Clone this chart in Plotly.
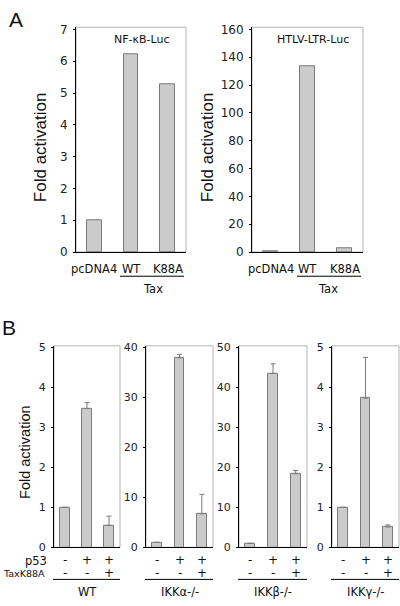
import plotly.graph_objects as go

# ---------------- data ----------------
a_categories = ["pcDNA4", "WT", "K88A"]
nfkb_values = [1.0, 6.23, 5.28]
htlv_values = [0.5, 133.4, 3.0]
a_titles = ["NF-κB-Luc", "HTLV-LTR-Luc"]
a_ticks_nfkb = [0, 1, 2, 3, 4, 5, 6, 7]
a_ticks_htlv = [0, 20, 40, 60, 80, 100, 120, 140, 160]

b_groups = ["WT", "IKKα-/-", "IKKβ-/-", "IKKγ-/-"]
wt_values = [1.0, 3.47, 0.55]
wt_errors = [0, 0.15, 0.23]
ikka_values = [1.0, 37.9, 6.7]
ikka_errors = [0, 0.7, 3.9]
ikkb_values = [1.0, 43.5, 18.4]
ikkb_errors = [0, 2.4, 0.8]
ikkg_values = [1.0, 3.73, 0.51]
ikkg_errors = [0, 1.02, 0.05]
b_ticks_wt = [0, 1, 2, 3, 4, 5]
b_ticks_ikka = [0, 10, 20, 30, 40]
b_ticks_ikkb = [0, 10, 20, 30, 40, 50]
b_ticks_ikkg = [0, 1, 2, 3, 4, 5]
p53_signs = ["-", "+", "+"]
tax_signs = ["-", "-", "+"]

# ---------------- layout helpers ----------------
W, H = 400, 606
def fx(x):
    return x / W
def fy(y):
    return 1 - y / H

BAR_FILL = "#cbcbcb"
BAR_LINE = "#7a7a7a"
FRAME = "#b4b4b4"
LABEL_FONT = "Liberation Sans, Arial, sans-serif"
SMALL_FONT = "DejaVu Sans, sans-serif"
INK = "#111111"

fig = go.Figure()
shapes = []
annotations = []
layout = {}

pos = [0, 1, 2]

def note(x, y, text, size, xref="paper", family=SMALL_FONT, xanchor="center", angle=0):
    annotations.append(dict(x=x if xref != "paper" else fx(x), xref=xref, y=fy(y), yref="paper",
                            text=text, showarrow=False, xanchor=xanchor, yanchor="middle",
                            textangle=angle, font=dict(family=family, size=size, color=INK)))

def add_panel(idx, values, errors, ticks, ymax, x0, x1, ytop, ybot, barw, tickfont):
    xa = "x" if idx == 1 else f"x{idx}"
    ya = "y" if idx == 1 else f"y{idx}"
    trace = dict(
        x=pos, y=values, xaxis=xa, yaxis=ya, width=barw,
        marker=dict(color=BAR_FILL, line=dict(color=BAR_LINE, width=1)),
        showlegend=False, hoverinfo="y",
    )
    if errors is not None:
        trace["error_y"] = dict(type="data", array=errors, arrayminus=[0] * len(errors),
                                symmetric=False, color="#7a7a7a", thickness=1, width=2.5)
    fig.add_trace(go.Bar(**trace))
    xk = "xaxis" if idx == 1 else f"xaxis{idx}"
    yk = "yaxis" if idx == 1 else f"yaxis{idx}"
    layout[xk] = dict(domain=[fx(x0), fx(x1)], range=[-0.5, 2.5], anchor=ya,
                      showline=True, linecolor="black", linewidth=1,
                      showgrid=False, zeroline=False, ticks="",
                      showticklabels=False, fixedrange=True)
    layout[yk] = dict(domain=[fy(ybot), fy(ytop)], range=[0, ymax], anchor=xa,
                      showline=True, linecolor="black", linewidth=1,
                      showgrid=False, zeroline=False, ticks="outside", ticklen=2,
                      tickcolor="black", tickvals=ticks,
                      tickfont=dict(family=SMALL_FONT, size=tickfont, color="#222222"),
                      ticklabelstandoff=3, fixedrange=True)
    shapes.append(dict(type="rect", xref="paper", yref="paper",
                       x0=fx(x0), x1=fx(x1), y0=fy(ybot), y1=fy(ytop),
                       line=dict(color=FRAME, width=1), layer="below"))
    return xa

# ---------------- panel A ----------------
A_TOP, A_BOT = 22.7, 252
xa1 = add_panel(1, nfkb_values, None, a_ticks_nfkb, 7.07, 76, 186, A_TOP, A_BOT, 0.4, 12)
xa2 = add_panel(2, htlv_values, None, a_ticks_htlv, 161.6, 252, 363, A_TOP, A_BOT, 0.4, 12)

for xa, (tx, tcx), (ux0, ux1), taxc, ylab_x in [
    (xa1, (a_titles[0], 141), (120, 184), 153, 40),
    (xa2, (a_titles[1], 313), (297, 361), 328, 207),
]:
    for i, c in enumerate(a_categories):
        note(pos[i], 269, c, 11.5, xref=xa)
    note(tcx, 35, tx, 11)
    shapes.append(dict(type="line", xref="paper", yref="paper", x0=fx(ux0), x1=fx(ux1),
                       y0=fy(276.7), y1=fy(276.7), line=dict(color="black", width=1)))
    note(taxc, 290, "Tax", 11.5)
    note(ylab_x, 145, "Fold activation", 17, family=LABEL_FONT, angle=-90)

# ---------------- panel B ----------------
B_TOP, B_BOT = 347.7, 553.3
b_specs = [
    (wt_values, wt_errors, b_ticks_wt, 5.04, 54, 120),
    (ikka_values, ikka_errors, b_ticks_ikka, 40.3, 146, 213),
    (ikkb_values, ikkb_errors, b_ticks_ikkb, 50.4, 239, 307),
    (ikkg_values, ikkg_errors, b_ticks_ikkg, 5.04, 332, 399),
]
for k, (vals, errs, ticks, ymax, x0, x1) in enumerate(b_specs):
    xa = add_panel(3 + k, vals, errs, ticks, ymax, x0, x1, B_TOP, B_BOT, 0.44, 11)
    for i in range(3):
        note(pos[i], 566.5, p53_signs[i], 12, xref=xa)
        note(pos[i], 579, tax_signs[i], 12, xref=xa)
    shapes.append(dict(type="line", xref="paper", yref="paper", x0=fx(x0 - 1), x1=fx(x1),
                       y0=fy(586), y1=fy(586), line=dict(color="black", width=1)))
    note((x0 + x1) / 2, 599, b_groups[k], 11.5)

note(49, 567.5, "p53", 11.5, xanchor="right")
note(0.5, 579.5, "TaxK88A", 9.5, xanchor="left")
note(25, 456, "Fold activation", 14.5, family=LABEL_FONT, angle=-90)

# panel letters
note(16, 14.5, "A", 21, family=LABEL_FONT)
note(8.5, 329.5, "B", 21, family=LABEL_FONT)

fig.update_layout(
    width=W, height=H,
    margin=dict(l=0, r=0, t=0, b=0),
    paper_bgcolor="white", plot_bgcolor="white",
    bargap=0, showlegend=False,
    shapes=shapes, annotations=annotations,
    **layout,
)

fig.write_html("out.html", config={"displayModeBar": False},
               post_script="document.body.style.margin='0';document.body.style.overflow='hidden';")
